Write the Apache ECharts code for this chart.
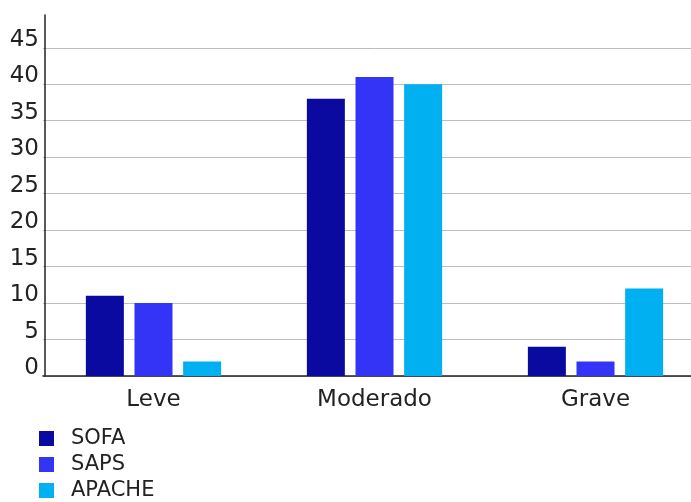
<!DOCTYPE html>
<html>
<head>
<meta charset="utf-8">
<script src="https://cdn.jsdelivr.net/npm/echarts@6/dist/echarts.min.js"></script>
<style>
  html, body { margin: 0; padding: 0; background: #ffffff; overflow: hidden; }
  /* plot runs slightly past the right edge of the window */
  #chart { width: 710px; height: 502px; }
</style>
</head>
<body>
<div id="chart"></div>
<script>
// Severity categories and score counts
const categories = ['Leve', 'Moderado', 'Grave'];
const sofa = [11, 38, 4];
const saps = [10, 41, 2];
const apache = [2, 40, 12];
const seriesNames = ['SOFA', 'SAPS', 'APACHE'];
const colors = ['#0a0aa0', '#3434f6', '#00b0f0'];

const font = 'DejaVu Sans, Verdana, sans-serif';

// gridline colours: last tick (axis top) left blank
const gridColors = ['#bdbdbd', '#bdbdbd', '#bdbdbd', '#bdbdbd', '#bdbdbd', '#bdbdbd',
                    '#bdbdbd', '#bdbdbd', '#bdbdbd', '#bdbdbd', 'rgba(0,0,0,0)'];

const chart = echarts.init(document.getElementById('chart'), null, { renderer: 'canvas' });

const values = [sofa, saps, apache];

chart.setOption({
  backgroundColor: '#ffffff',
  animation: false,
  grid: { left: 43, top: 15, width: 663, height: 361, containLabel: false },
  legend: {
    orient: 'vertical',
    left: 39,
    top: 428,
    height: 120,
    padding: 0,
    itemWidth: 15,
    itemHeight: 15,
    itemGap: 5,
    icon: 'rect',
    data: seriesNames,
    textStyle: { fontFamily: font, fontSize: 21, color: '#222', padding: [0, 0, 0, 12] }
  },
  xAxis: {
    type: 'category',
    data: categories,
    axisLine: { show: true, lineStyle: { color: '#222', width: 1.5 } },
    axisTick: { show: false },
    axisLabel: { fontFamily: font, fontSize: 23, color: '#222', margin: 13 },
    splitLine: { show: false }
  },
  yAxis: {
    type: 'value',
    min: 0,
    max: 49.5,
    interval: 5,
    offset: -2,
    axisLine: { show: true, lineStyle: { color: '#222', width: 1.5 } },
    axisTick: { show: false },
    axisLabel: {
      fontFamily: font, fontSize: 23, color: '#222', margin: 6,
      verticalAlign: 'bottom', lineHeight: 16,
      showMaxLabel: false
    },
    splitLine: { show: true, lineStyle: { color: gridColors, width: 1 } }
  },
  series: seriesNames.map((name, i) => ({
    name: name,
    type: 'bar',
    data: values[i],
    barWidth: 38,
    barGap: '28%',
    itemStyle: { color: colors[i] }
  }))
});
</script>
</body>
</html>
